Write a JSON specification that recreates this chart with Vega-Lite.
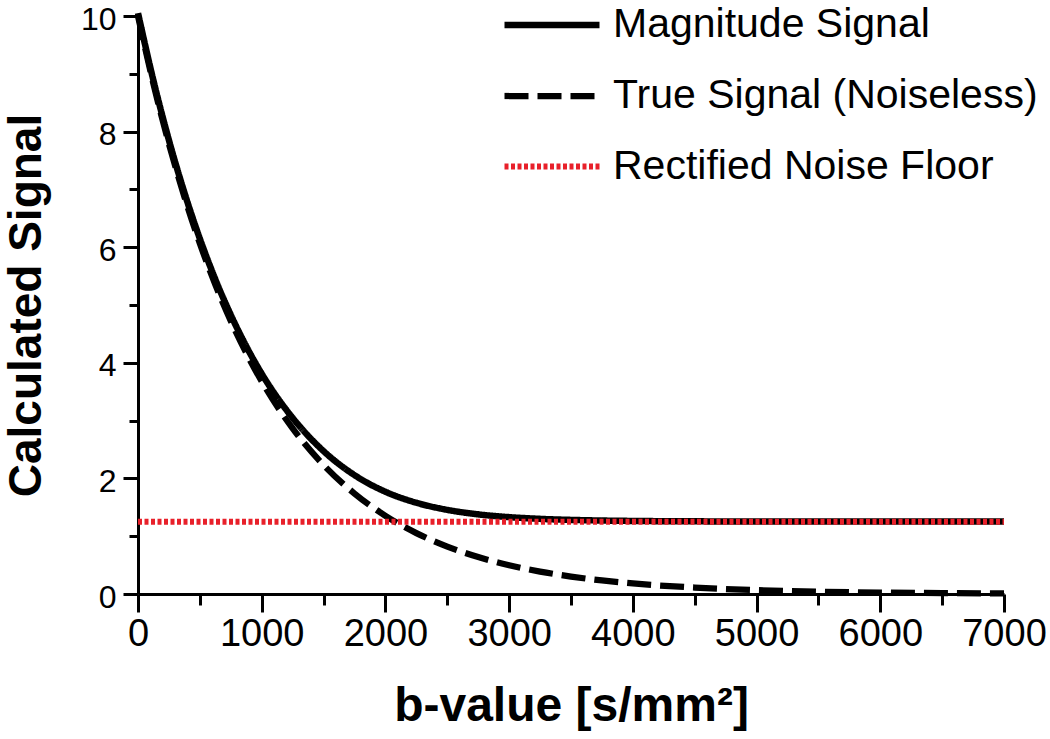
{
  "$schema": "https://vega.github.io/schema/vega-lite/v6.json",
  "width": 866,
  "height": 578,
  "autosize": {"type": "none"},
  "padding": {"left": 138, "top": 16, "right": 46, "bottom": 145},
  "background": "white",
  "config": {
    "font": "Liberation Sans",
    "view": {"stroke": null},
    "axis": {"grid": false, "domainColor": "black", "tickColor": "black", "domainWidth": 3, "tickWidth": 3, "labelColor": "black", "titleColor": "black", "labelFont": "Liberation Sans", "titleFont": "Liberation Sans"}
  },
  "data": {
    "values": [
      {"b": 0, "signal": 10.05, "series": "Magnitude Signal"},
      {"b": 125, "signal": 8.882, "series": "Magnitude Signal"},
      {"b": 250, "signal": 7.852, "series": "Magnitude Signal"},
      {"b": 375, "signal": 6.946, "series": "Magnitude Signal"},
      {"b": 500, "signal": 6.147, "series": "Magnitude Signal"},
      {"b": 625, "signal": 5.445, "series": "Magnitude Signal"},
      {"b": 750, "signal": 4.830, "series": "Magnitude Signal"},
      {"b": 875, "signal": 4.287, "series": "Magnitude Signal"},
      {"b": 1000, "signal": 3.812, "series": "Magnitude Signal"},
      {"b": 1250, "signal": 3.047, "series": "Magnitude Signal"},
      {"b": 1500, "signal": 2.472, "series": "Magnitude Signal"},
      {"b": 1750, "signal": 2.057, "series": "Magnitude Signal"},
      {"b": 2000, "signal": 1.769, "series": "Magnitude Signal"},
      {"b": 2250, "signal": 1.579, "series": "Magnitude Signal"},
      {"b": 2500, "signal": 1.456, "series": "Magnitude Signal"},
      {"b": 2750, "signal": 1.378, "series": "Magnitude Signal"},
      {"b": 3000, "signal": 1.330, "series": "Magnitude Signal"},
      {"b": 3250, "signal": 1.300, "series": "Magnitude Signal"},
      {"b": 3500, "signal": 1.282, "series": "Magnitude Signal"},
      {"b": 3750, "signal": 1.271, "series": "Magnitude Signal"},
      {"b": 4000, "signal": 1.264, "series": "Magnitude Signal"},
      {"b": 4500, "signal": 1.257, "series": "Magnitude Signal"},
      {"b": 5000, "signal": 1.255, "series": "Magnitude Signal"},
      {"b": 5500, "signal": 1.254, "series": "Magnitude Signal"},
      {"b": 6000, "signal": 1.253, "series": "Magnitude Signal"},
      {"b": 6500, "signal": 1.253, "series": "Magnitude Signal"},
      {"b": 7000, "signal": 1.253, "series": "Magnitude Signal"},
      {"b": 0, "signal": 10.0, "series": "True Signal (Noiseless)"},
      {"b": 125, "signal": 8.825, "series": "True Signal (Noiseless)"},
      {"b": 250, "signal": 7.788, "series": "True Signal (Noiseless)"},
      {"b": 375, "signal": 6.873, "series": "True Signal (Noiseless)"},
      {"b": 500, "signal": 6.065, "series": "True Signal (Noiseless)"},
      {"b": 625, "signal": 5.353, "series": "True Signal (Noiseless)"},
      {"b": 750, "signal": 4.724, "series": "True Signal (Noiseless)"},
      {"b": 875, "signal": 4.169, "series": "True Signal (Noiseless)"},
      {"b": 1000, "signal": 3.679, "series": "True Signal (Noiseless)"},
      {"b": 1250, "signal": 2.865, "series": "True Signal (Noiseless)"},
      {"b": 1500, "signal": 2.231, "series": "True Signal (Noiseless)"},
      {"b": 1750, "signal": 1.738, "series": "True Signal (Noiseless)"},
      {"b": 2000, "signal": 1.353, "series": "True Signal (Noiseless)"},
      {"b": 2250, "signal": 1.054, "series": "True Signal (Noiseless)"},
      {"b": 2500, "signal": 0.821, "series": "True Signal (Noiseless)"},
      {"b": 2750, "signal": 0.639, "series": "True Signal (Noiseless)"},
      {"b": 3000, "signal": 0.498, "series": "True Signal (Noiseless)"},
      {"b": 3250, "signal": 0.388, "series": "True Signal (Noiseless)"},
      {"b": 3500, "signal": 0.302, "series": "True Signal (Noiseless)"},
      {"b": 3750, "signal": 0.235, "series": "True Signal (Noiseless)"},
      {"b": 4000, "signal": 0.183, "series": "True Signal (Noiseless)"},
      {"b": 4500, "signal": 0.111, "series": "True Signal (Noiseless)"},
      {"b": 5000, "signal": 0.067, "series": "True Signal (Noiseless)"},
      {"b": 5500, "signal": 0.041, "series": "True Signal (Noiseless)"},
      {"b": 6000, "signal": 0.025, "series": "True Signal (Noiseless)"},
      {"b": 6500, "signal": 0.015, "series": "True Signal (Noiseless)"},
      {"b": 7000, "signal": 0.009, "series": "True Signal (Noiseless)"},
      {"b": 0, "signal": 1.25, "series": "Rectified Noise Floor"},
      {"b": 7000, "signal": 1.25, "series": "Rectified Noise Floor"}
    ]
  },
  "layer": [
    {
      "mark": {"type": "line", "interpolate": "monotone", "clip": false},
      "encoding": {
        "x": {"field": "b", "type": "quantitative",
          "scale": {"domain": [0, 7000], "nice": false, "zero": false},
          "axis": {"orient": "bottom", "values": [0, 1000, 2000, 3000, 4000, 5000, 6000, 7000], "format": "d", "tickSize": 18, "labelFontSize": 38, "labelPadding": 3, "labelFlush": false, "labelOverlap": false, "title": "b-value [s/mm²]", "titleFontSize": 48, "titleFontWeight": "bold", "titlePadding": 29}},
        "y": {"field": "signal", "type": "quantitative",
          "scale": {"domain": [0, 10], "nice": false},
          "axis": {"orient": "left", "values": [0, 2, 4, 6, 8, 10], "tickSize": 15, "labelFontSize": 32, "labelPadding": 7, "labelOffset": 3, "labelFlush": false, "labelOverlap": false, "title": "Calculated Signal", "titleFontSize": 46, "titleFontWeight": "bold", "titlePadding": 30}},
        "color": {"field": "series", "type": "nominal",
          "scale": {"domain": ["Magnitude Signal", "True Signal (Noiseless)", "Rectified Noise Floor"], "range": ["#000000", "#000000", "#e8202a"]},
          "legend": {"title": null, "orient": "none", "legendX": 363, "legendY": -42, "labelFontSize": 41, "labelColor": "black", "labelOffset": 10, "symbolType": "stroke", "symbolSize": 9025, "rowPadding": 0, "labelLimit": 500, "padding": 0}},
        "strokeDash": {"field": "series", "type": "nominal",
          "scale": {"domain": ["Magnitude Signal", "True Signal (Noiseless)", "Rectified Noise Floor"], "range": [[1, 0], [24, 9], [4, 2.5]]},
          "legend": {"title": null, "orient": "none", "legendX": 363, "legendY": -42, "labelFontSize": 41, "labelColor": "black", "labelOffset": 10, "symbolType": "stroke", "symbolSize": 9025, "rowPadding": 0, "labelLimit": 500, "padding": 0}},
        "strokeWidth": {"field": "series", "type": "nominal",
          "scale": {"domain": ["Magnitude Signal", "True Signal (Noiseless)", "Rectified Noise Floor"], "range": [6.5, 6, 2.5]},
          "legend": {"title": null, "orient": "none", "legendX": 363, "legendY": -42, "labelFontSize": 41, "labelColor": "black", "labelOffset": 10, "symbolType": "stroke", "symbolSize": 9025, "rowPadding": 0, "labelLimit": 500, "padding": 0}}
      }
    },
    {
      "mark": {"type": "point", "opacity": 0},
      "encoding": {
        "x": {"field": "b", "type": "quantitative",
          "axis": {"orient": "bottom", "values": [500, 1500, 2500, 3500, 4500, 5500, 6500], "tickSize": 11, "labels": false, "domain": false, "title": null}},
        "y": {"field": "signal", "type": "quantitative",
          "axis": {"orient": "left", "values": [1, 3, 5, 7, 9], "tickSize": 9, "labels": false, "domain": false, "title": null}}
      }
    }
  ],
  "resolve": {"axis": {"x": "independent", "y": "independent"}}
}
